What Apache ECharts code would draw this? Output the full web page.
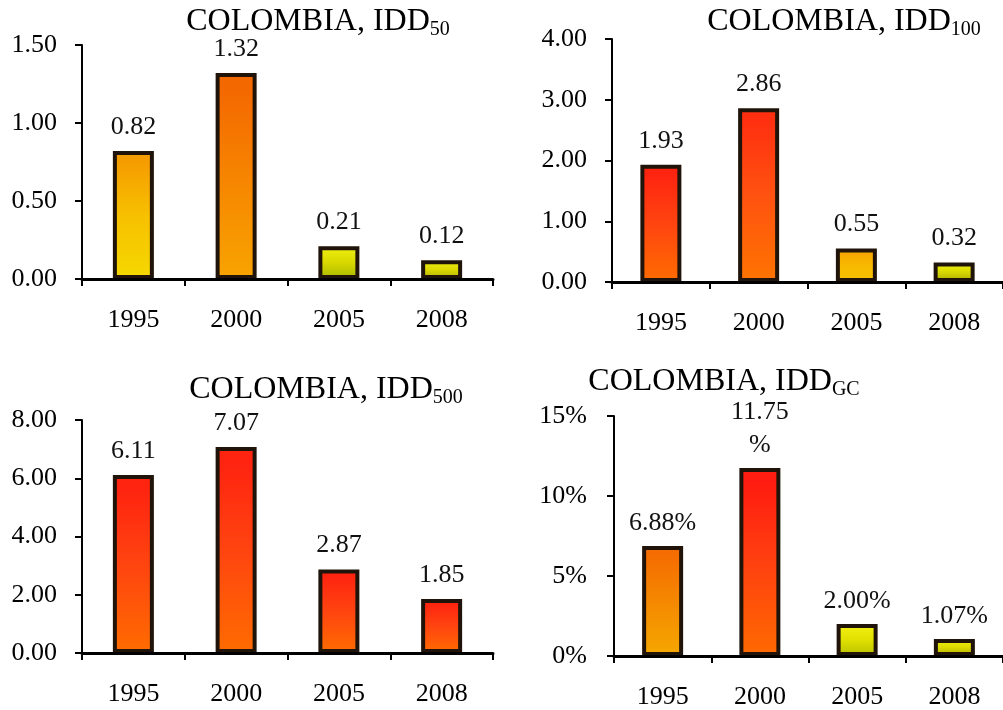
<!DOCTYPE html>
<html>
<head>
<meta charset="utf-8">
<script src="https://cdn.jsdelivr.net/npm/echarts@6/dist/echarts.min.js"></script>
<style>
html,body{margin:0;padding:0;background:#fff;}
#c{width:1003px;height:710px;}
</style>
</head>
<body>
<div id="c"></div>
<script>
// ---- data ----
const years = ['1995', '2000', '2005', '2008'];
const idd50 = [0.82, 1.32, 0.21, 0.12];
const idd100 = [1.93, 2.86, 0.55, 0.32];
const idd500 = [6.11, 7.07, 2.87, 1.85];
const iddGC = [6.88, 11.75, 2.00, 1.07];
const titleSubs = ['50', '100', '500', 'GC'];
const yMax = [1.5, 4, 8, 15];
const yStep = [0.5, 1, 2, 5];

// ---- styles ----
const FONT = '"Liberation Serif", "Times New Roman", serif';
const barColors = [
  [['#f59c00', '#f7c000', '#f5d800'], ['#f46800', '#f68400', '#f8a400'], ['#ecec10', '#d8d800', '#a8b800'], ['#ecec10', '#dcd800', '#b0b000']],
  [['#ff2410', '#ff4410', '#ff6c00'], ['#ff3010', '#ff5210', '#ff7400'], ['#f5a400', '#f8b800', '#f5c400'], ['#f0ee10', '#d8d800', '#a8a800']],
  [['#ff2410', '#ff4410', '#ff6c00'], ['#ff2410', '#ff4410', '#ff6c00'], ['#ff2410', '#ff4410', '#ff6c00'], ['#ff2410', '#ff4410', '#ff6c00']],
  [['#f56c00', '#f58800', '#f5a800'], ['#ff1c10', '#ff4010', '#ff6a00'], ['#f0ee10', '#e0e000', '#b8c000'], ['#f0ee10', '#dcd800', '#b0b000']]
];
const grids = [
  {left: 82, top: 45, width: 411, height: 234},
  {left: 612, top: 39, width: 401, height: 243},
  {left: 82, top: 420, width: 411, height: 233},
  {left: 614, top: 416, width: 397, height: 242}
];
const titlePos = [[318, 22], [844, 22], [326, 390], [724, 382]];

const seriesData = [idd50, idd100, idd500, iddGC];

function grad(c) {
  return {
    type: 'linear', x: 0, y: 0, x2: 0, y2: 1,
    colorStops: [
      {offset: 0, color: c[0]},
      {offset: 0.08, color: c[0]},
      {offset: 0.5, color: c[1]},
      {offset: 1, color: c[2]}
    ]
  };
}

const option = {
  animation: false,
  backgroundColor: '#ffffff',
  grid: grids.map(g => Object.assign({containLabel: false}, g)),
  xAxis: grids.map((g, i) => ({
    type: 'category',
    gridIndex: i,
    data: years,
    z: 5,
    axisLine: {show: true, lineStyle: {color: '#000', width: 3}},
    axisTick: {show: true, length: 7, lineStyle: {color: '#000', width: 2}},
    axisLabel: {color: '#000', fontFamily: FONT, fontSize: 26, margin: 28}
  })),
  yAxis: grids.map((g, i) => ({
    type: 'value',
    gridIndex: i,
    min: 0,
    max: yMax[i],
    interval: yStep[i],
    splitLine: {show: false},
    axisLine: {show: true, lineStyle: {color: '#000', width: 2}},
    axisTick: {show: true, length: 7, lineStyle: {color: '#000', width: 2}},
    axisLabel: {
      color: '#000', fontFamily: FONT, fontSize: 26, margin: i === 3 ? 27 : 25,
      formatter: i === 3 ? (v => v + '%') : (v => v.toFixed(2))
    }
  })),
  series: seriesData.map((arr, i) => ({
    type: 'bar',
    xAxisIndex: i,
    yAxisIndex: i,
    barWidth: 41,
    data: arr.map((v, j) => ({
      value: v,
      itemStyle: {color: grad(barColors[i][j])}
    })),
    itemStyle: {borderColor: '#20140a', borderWidth: 4},
    label: {
      show: true,
      position: 'top',
      distance: i === 3 ? 6 : 11,
      color: '#111',
      fontFamily: FONT,
      fontSize: 26,
      lineHeight: i === 3 ? 33 : 26,
      width: i === 3 ? 70 : undefined,
      overflow: i === 3 ? 'break' : 'none',
      formatter: i === 3 ? (p => p.value.toFixed(2) + '%') : (p => p.value.toFixed(2))
    }
  })),
  graphic: titlePos.map((p, i) => ({
    type: 'text',
    x: p[0],
    y: p[1],
    style: {
      text: '{a|COLOMBIA, IDD}{s|' + titleSubs[i] + '}',
      align: 'center',
      verticalAlign: 'middle',
      rich: {
        a: {fontFamily: FONT, fontSize: 32, lineHeight: 36, verticalAlign: 'middle', fill: '#000', color: '#000'},
        s: {fontFamily: FONT, fontSize: 20, lineHeight: 20, verticalAlign: 'bottom', fill: '#000', color: '#000'}
      }
    }
  }))
};

const chart = echarts.init(document.getElementById('c'), null, {renderer: 'canvas'});
chart.setOption(option);
</script>
</body>
</html>
